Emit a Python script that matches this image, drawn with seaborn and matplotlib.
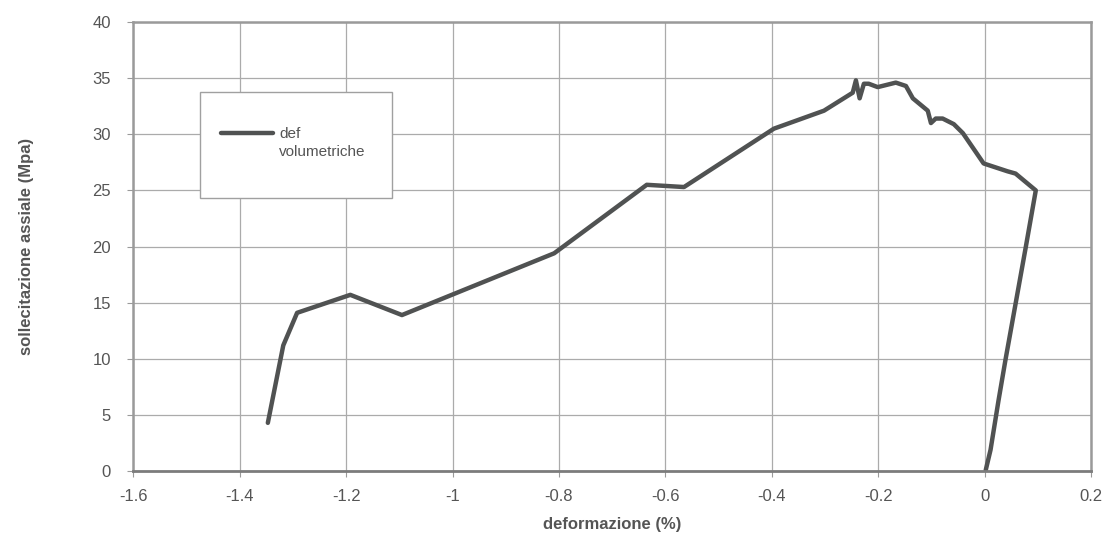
import pandas as pd
import matplotlib
matplotlib.use("Agg")
import matplotlib.pyplot as plt
from matplotlib.patches import Rectangle
import seaborn as sns

# valori (deformazione %, sollecitazione MPa)
deformazione = [0.002, 0.011, 0.026, 0.039, 0.077, 0.096, 0.058, 0.043, -0.002,
                -0.041, -0.058, -0.079, -0.092, -0.101, -0.107, -0.135, -0.148,
                -0.167, -0.201, -0.218, -0.227, -0.235, -0.242, -0.248, -0.302,
                -0.396, -0.565, -0.635, -0.809, -1.095, -1.192, -1.292, -1.318,
                -1.347]
sollecitazione = [0.1, 1.9, 6.3, 9.9, 19.9, 25.0, 26.5, 26.7, 27.4,
                  30.1, 30.9, 31.4, 31.4, 31.0, 32.1, 33.2, 34.3,
                  34.6, 34.2, 34.5, 34.5, 33.2, 34.8, 33.7, 32.1,
                  30.5, 25.3, 25.5, 19.4, 13.9, 15.7, 14.1, 11.2,
                  4.3]
x_ticks = [-1.6, -1.4, -1.2, -1.0, -0.8, -0.6, -0.4, -0.2, 0.0, 0.2]
x_labels = ["-1.6", "-1.4", "-1.2", "-1", "-0.8", "-0.6", "-0.4", "-0.2", "0", "0.2"]
y_ticks = [0, 5, 10, 15, 20, 25, 30, 35, 40]

df = pd.DataFrame({"deformazione": deformazione, "sollecitazione": sollecitazione})

sns.set_style("white")
plt.rcParams['font.family'] = ['Liberation Sans', 'DejaVu Sans']

fig = plt.figure(figsize=(11.1, 5.36), dpi=100)
ax = fig.add_axes([0.12, 0.121, 0.863, 0.838])

sns.lineplot(data=df, x="deformazione", y="sollecitazione", sort=False,
             color="#505252", linewidth=3.2, label="def\nvolumetriche", ax=ax)

ax.set_xlim(-1.6, 0.2)
ax.set_ylim(0, 40)
ax.set_xticks(x_ticks)
ax.set_xticklabels(x_labels)
ax.set_yticks(y_ticks)
ax.grid(True, color="#ababab", linewidth=0.9)
ax.set_axisbelow(True)

for side in ["top", "right", "left"]:
    ax.spines[side].set_color("#9a9a9a")
    ax.spines[side].set_linewidth(1.8)
ax.spines["bottom"].set_color("#7c7c7c")
ax.spines["bottom"].set_linewidth(2.0)

ax.tick_params(axis="both", labelsize=12, colors="#9a9a9a", labelcolor="#555555",
               length=4, direction="out", bottom=True, left=True)
ax.tick_params(axis="y", pad=12)
ax.tick_params(axis="x", pad=9)
ax.set_xlabel("deformazione (%)", fontsize=12, fontweight="bold", color="#555555", labelpad=9)
ax.set_ylabel("sollecitazione assiale (Mpa)", fontsize=12, fontweight="bold", color="#555555", labelpad=42)

# riquadro della legenda
ax.add_patch(Rectangle((0.070, 0.608), 0.200, 0.236, transform=ax.transAxes,
                       facecolor="white", edgecolor="#a0a0a0", linewidth=1.0, zorder=4))
leg = ax.legend(loc="upper left", bbox_to_anchor=(0.092, 0.766), frameon=False,
                fontsize=11, handlelength=3.4, handletextpad=0.4,
                borderpad=0, borderaxespad=0)
leg.set_zorder(5)
for t in leg.get_texts():
    t.set_color("#555555")
    t.set_linespacing(1.4)
for h in leg.legend_handles:
    h.set_ydata([y + 7.5 for y in h.get_ydata()])

fig.savefig("out.png", dpi=100)
